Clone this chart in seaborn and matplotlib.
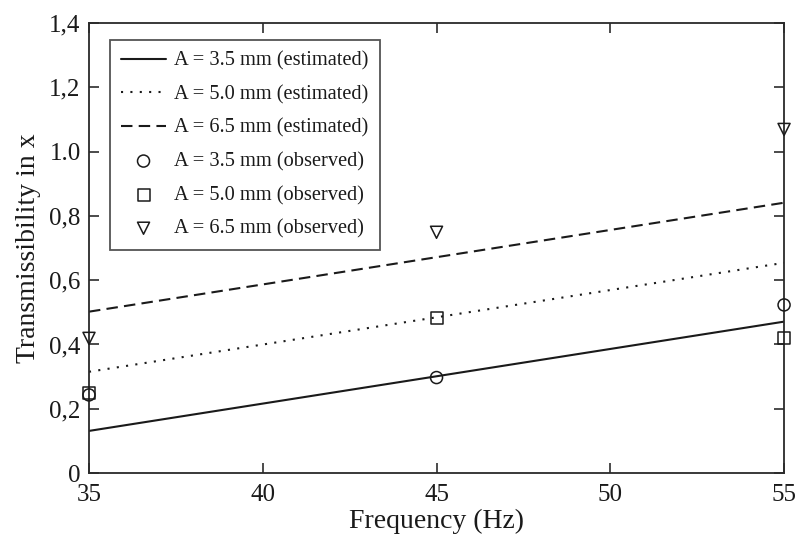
import matplotlib
matplotlib.use("Agg")
import matplotlib.pyplot as plt
import seaborn as sns
import pandas as pd

freq_est = [35, 55]
est_35 = [0.131, 0.471]
est_50 = [0.315, 0.654]
est_65 = [0.502, 0.841]

freq_obs = [35, 45, 55]
obs_35 = [0.243, 0.297, 0.523]
obs_50 = [0.249, 0.481, 0.419]
obs_65 = [0.419, 0.749, 1.069]

ytick_vals = [0, 0.2, 0.4, 0.6, 0.8, 1.0, 1.2, 1.4]
ytick_labels = ["0", "0,2", "0,4", "0,6", "0,8", "1.0", "1,2", "1,4"]
xtick_vals = [35, 40, 45, 50, 55]

sns.set_theme(style="ticks")
plt.rcParams['font.family'] = ['Liberation Serif', 'DejaVu Serif']

fig = plt.figure(figsize=(7.96, 5.36), dpi=100)
ax = fig.add_axes([0.1118, 0.1175, 0.8732, 0.8395])

est = pd.DataFrame({"f": freq_est * 3,
                    "t": est_35 + est_50 + est_65,
                    "s": ["A = 3.5 mm (estimated)"] * 2 + ["A = 5.0 mm (estimated)"] * 2 + ["A = 6.5 mm (estimated)"] * 2})
styles = {"A = 3.5 mm (estimated)": "-", "A = 5.0 mm (estimated)": (0, (1, 3.5)), "A = 6.5 mm (estimated)": (0, (5.5, 3))}
for name, sub in est.groupby("s", sort=False):
    sns.lineplot(data=sub, x="f", y="t", ax=ax, color="#1a1a1a", lw=1.5,
                 linestyle=styles[name], label=name)

obs_sets = [("A = 3.5 mm (observed)", obs_35, "o"),
            ("A = 5.0 mm (observed)", obs_50, "s"),
            ("A = 6.5 mm (observed)", obs_65, "v")]
for name, vals, m in obs_sets:
    df = pd.DataFrame({"f": freq_obs, "t": vals})
    sns.scatterplot(data=df, x="f", y="t", ax=ax, marker=m, s=75,
                    facecolor="none", edgecolor="#1a1a1a", linewidth=1.1,
                    label=name, clip_on=False, zorder=5)

ax.set_xlim(35, 55)
ax.set_ylim(0, 1.4)
ax.set_xticks(xtick_vals)
ax.set_xticklabels([str(v) for v in xtick_vals])
ax.set_yticks(ytick_vals)
ax.set_yticklabels(ytick_labels)
ax.tick_params(direction="in", length=7, width=1.1, top=True, right=True,
               labelsize=18, colors="#1a1a1a")
ax.tick_params(axis="x", pad=8)
ax.tick_params(axis="y", pad=6)
for sp in ax.spines.values():
    sp.set_visible(True)
    sp.set_color("#2a2a2a")
    sp.set_linewidth(1.3)
ax.set_xlabel("Frequency (Hz)", fontsize=20, color="#1a1a1a", labelpad=2)
ax.set_ylabel("Transmissibility in x", fontsize=20, color="#1a1a1a", labelpad=6)

leg = ax.legend(loc="upper left", bbox_to_anchor=(0.030, 0.962), fontsize=14.7,
                frameon=True, fancybox=False, edgecolor="#2a2a2a",
                handlelength=2.2, handletextpad=0.4, labelspacing=0.70,
                borderpad=0.55, borderaxespad=0)
leg.get_frame().set_linewidth(1.3)
for t in leg.get_texts():
    t.set_color("#1a1a1a")

fig.savefig("out.png", dpi=100)
